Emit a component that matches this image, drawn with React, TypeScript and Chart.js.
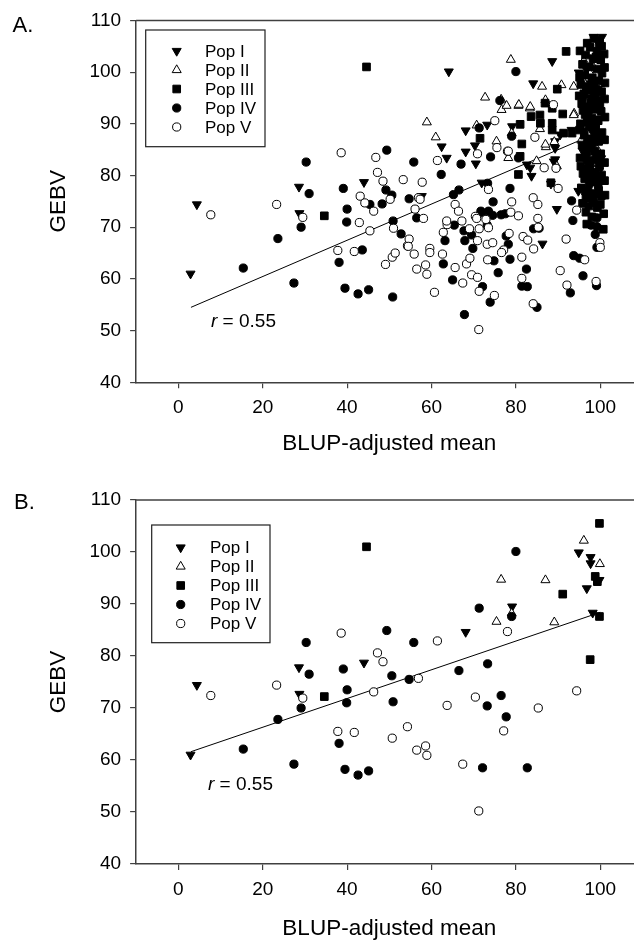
import React, { useEffect, useRef } from 'react';
import { Chart, registerables } from 'chart.js';

Chart.register(...registerables);

type P = [number, number];

const FONT = "'Liberation Sans', Arial, Helvetica, sans-serif";

const xTickValues = [0, 20, 40, 60, 80, 100];
const popLabels = ['Pop I', 'Pop II', 'Pop III', 'Pop IV', 'Pop V'];
const xTitle = 'BLUP-adjusted mean';
const yTitle = 'GEBV';
const corrValue = '0.55';

// ---------- Panel B points (also present in panel A) ----------
const popI_B: P[] = [[4.4, 74.4], [2.9, 61.0], [28.7, 72.7], [28.6, 77.8], [44.0, 78.7], [68.1, 84.6], [79.1, 89.5], [94.9, 99.9], [97.7, 99.0], [97.7, 97.8], [99.8, 94.6], [96.8, 93.0], [98.2, 88.3]];
const popII_B: P[] = [[96.1, 102.2], [99.9, 97.7], [76.5, 94.7], [87.0, 94.6], [79.0, 88.2], [75.4, 86.6], [89.1, 86.5]];
const popIII_B: P[] = [[44.6, 101.0], [99.8, 105.5], [98.8, 95.3], [99.3, 94.3], [91.1, 91.9], [99.8, 87.6], [97.6, 79.3], [34.6, 72.2]];
const popIV_B: P[] = [[15.4, 62.1], [23.6, 67.8], [27.4, 59.2], [29.1, 70.0], [30.3, 82.6], [31.0, 76.5], [80.0, 100.1], [79.0, 87.6], [71.3, 89.2], [55.8, 82.6], [49.4, 84.9], [39.1, 77.5], [50.6, 76.2], [54.7, 75.5], [66.5, 77.2], [73.3, 78.5], [40.0, 73.5], [76.5, 72.4], [39.9, 71.0], [50.9, 71.2], [73.2, 70.4], [77.7, 68.3], [38.1, 63.2], [39.5, 58.2], [42.6, 57.1], [45.1, 57.9], [72.1, 58.5], [82.7, 58.5]];
const popV_B: P[] = [[7.7, 72.4], [23.3, 74.4], [29.5, 71.9], [78.0, 84.7], [94.4, 73.3], [61.4, 82.9], [38.6, 84.4], [47.2, 80.6], [48.5, 78.9], [56.9, 75.7], [46.3, 73.1], [70.4, 72.1], [63.7, 70.5], [85.3, 70.0], [37.8, 65.5], [41.7, 65.3], [50.7, 64.2], [54.3, 66.4], [56.5, 61.9], [58.6, 62.7], [58.9, 60.9], [77.1, 65.6], [67.4, 59.2], [71.2, 50.2]];

// ---------- Additional points only in panel A ----------
const popI_Aextra: P[] = [[64.1, 100.1], [88.6, 102.1], [84.1, 97.8], [62.4, 85.6], [68.1, 88.7], [73.2, 89.8], [70.3, 85.8], [63.6, 83.4], [70.5, 82.3], [90.5, 87.9], [89.3, 85.3], [93.2, 88.8], [89.0, 82.7], [82.6, 82.1], [83.7, 79.9], [71.9, 78.6], [88.3, 78.4], [94.8, 77.0], [89.7, 73.5], [57.7, 76.0], [86.3, 66.8], [89.3, 83.1], [83.4, 81.5], [89.3, 86.6],
  [98.4, 106.8], [100.4, 106.8], [99.1, 103.1], [96.9, 100.2], [100.0, 97.5], [97.5, 92.2], [99.2, 89.8], [96.0, 88.6], [98.4, 85.9], [100.2, 83.3], [96.8, 82.5], [99.1, 79.6], [97.6, 80.0], [95.8, 84.8], [99.9, 91.0], [98.1, 96.0], [96.0, 94.8]];
const popII_Aextra: P[] = [[78.8, 102.4], [86.2, 97.2], [90.8, 97.5], [72.7, 95.1], [76.6, 92.7], [77.8, 93.5], [80.6, 93.5], [58.9, 90.3], [61.0, 87.4], [70.7, 89.7], [78.2, 83.4], [83.3, 93.0], [85.7, 89.0], [87.1, 85.5], [93.8, 92.0], [84.9, 82.8], [93.7, 97.2], [80.7, 93.7], [83.4, 93.3], [93.7, 91.7], [87.0, 86.0], [89.7, 81.8],
  [97.6, 99.7], [96.2, 97.9], [98.8, 93.6], [96.8, 90.6], [99.4, 84.9], [97.7, 82.2], [95.5, 86.8], [98.4, 100.9]];
const popIII_Aextra: P[] = [[91.9, 104.0], [89.8, 96.7], [71.5, 87.2], [81.0, 89.9], [81.4, 86.1], [83.6, 91.4], [85.7, 91.7], [86.9, 94.0], [88.6, 93.0], [88.6, 88.8], [80.6, 80.2], [88.3, 78.6], [85.8, 90.1], [88.6, 90.1], [91.3, 88.2], [93.3, 88.2], [81.0, 83.7], [97.3, 74.1], [100.0, 74.4],
  [98.5, 106.5], [99.8, 106.2], [100.3, 105.0], [97.6, 104.8], [99.2, 104.0], [96.5, 103.3], [98.3, 102.6], [100.1, 102.4], [95.8, 101.5], [97.4, 101.0], [99.3, 100.6], [100.4, 99.8], [96.3, 99.4], [98.1, 98.9], [99.6, 98.3], [95.4, 97.6], [97.2, 97.2], [98.9, 96.7], [100.3, 96.2], [96.1, 95.8], [97.8, 95.0], [99.4, 94.5], [95.6, 93.9], [97.1, 93.3], [98.6, 92.8], [100.2, 92.4], [96.4, 91.8], [98.0, 91.1], [99.5, 90.6], [95.3, 90.0], [97.3, 89.4], [98.9, 88.9], [100.4, 88.3], [96.2, 87.8], [97.9, 87.1], [99.6, 86.6], [95.7, 85.9], [97.2, 85.3], [98.7, 84.7], [100.1, 84.2], [96.5, 83.6], [98.2, 83.0], [99.7, 82.4], [95.4, 81.8], [97.0, 81.2], [98.6, 80.6], [100.3, 80.1], [96.3, 79.4], [98.0, 78.8], [99.5, 78.2], [97.1, 77.2], [98.8, 76.5], [100.2, 76.0], [96.6, 75.6],
  [95.2, 104.1], [96.9, 105.6], [100.9, 103.5], [101.0, 100.9], [95.1, 99.0], [101.1, 97.9], [95.0, 95.4], [101.0, 94.8], [96.7, 96.6], [98.4, 97.6], [99.9, 93.5], [97.7, 94.0], [95.9, 92.6], [101.1, 91.3], [96.9, 90.4], [98.3, 89.9], [95.1, 88.8], [99.8, 88.1], [101.0, 86.9], [96.8, 84.6], [95.2, 83.4], [99.1, 83.5], [101.0, 82.5], [97.5, 82.0], [95.9, 80.4], [97.6, 79.9], [99.4, 79.5], [101.0, 79.0], [95.5, 77.6], [97.0, 76.0], [99.6, 77.1], [101.1, 76.2], [98.2, 75.6], [95.8, 74.6], [99.3, 73.8], [100.8, 72.6], [96.6, 72.9], [98.0, 72.0], [96.8, 70.6], [100.7, 69.6]];
const popIV_Aextra: P[] = [[76.2, 94.5], [67.0, 82.2], [74.0, 83.6], [80.6, 83.4], [78.6, 77.5], [65.2, 76.3], [93.2, 75.1], [74.6, 74.9], [71.9, 72.8], [74.5, 72.3], [77.5, 72.6], [62.3, 80.2], [45.4, 74.4], [48.3, 74.5], [49.2, 77.2], [56.5, 71.8], [52.8, 68.7], [65.4, 70.4], [63.2, 67.4], [67.7, 69.3], [69.5, 68.5], [67.9, 67.4], [69.8, 65.9], [71.7, 73.1], [73.5, 73.1], [78.2, 66.7], [78.6, 63.8], [62.8, 62.9], [65.0, 59.8], [73.9, 55.5], [74.8, 63.5], [75.8, 61.2], [67.8, 53.1], [93.5, 71.3], [84.2, 69.7], [85.5, 69.8], [82.5, 61.9], [81.4, 58.6], [85.0, 54.5], [93.7, 64.5], [95.1, 64.0], [95.9, 60.6], [92.9, 57.3], [99.1, 58.7], [43.6, 65.6], [50.8, 56.5], [97.8, 70.4], [99.2, 70.1], [98.8, 68.6], [99.2, 71.8], [99.2, 66.1],
  [97.5, 90.3], [99.0, 87.5], [96.9, 86.4], [99.8, 81.5], [97.4, 78.3], [98.4, 74.8], [96.4, 76.8]];
const popV_Aextra: P[] = [[46.8, 83.5], [57.8, 78.7], [53.3, 79.2], [43.1, 76.0], [44.2, 74.7], [50.2, 75.4], [56.1, 73.5], [65.6, 74.4], [66.4, 73.1], [78.8, 72.9], [80.6, 72.2], [75.0, 90.6], [70.9, 84.2], [75.5, 85.4], [84.5, 87.4], [88.9, 93.7], [86.7, 81.5], [89.5, 81.4], [90.0, 77.5], [84.1, 75.7], [85.2, 74.4], [79.0, 74.9], [73.5, 77.3], [78.2, 84.7], [57.3, 75.4], [58.1, 71.7], [54.7, 67.7], [54.5, 66.3], [55.9, 64.8], [59.6, 65.9], [59.6, 65.1], [60.7, 57.4], [67.2, 71.2], [62.8, 69.0], [69.0, 69.7], [71.3, 69.7], [70.9, 67.4], [73.2, 66.7], [74.5, 67.0], [70.7, 71.7], [72.9, 71.5], [73.5, 69.9], [78.4, 68.8], [76.6, 65.1], [62.6, 64.8], [65.6, 62.2], [68.3, 62.9], [69.1, 64.0], [69.5, 60.8], [70.9, 60.3], [71.3, 57.6], [74.9, 56.8], [73.3, 63.7], [85.2, 71.7], [81.7, 68.2], [82.8, 67.5], [84.2, 65.8], [91.9, 67.7], [81.4, 64.2], [81.4, 60.1], [84.1, 55.2], [96.3, 63.7], [90.5, 61.6], [92.1, 58.8], [99.0, 59.5], [99.9, 67.0], [100.0, 66.1], [49.1, 62.8], [51.4, 65.0], [45.4, 69.3], [42.9, 70.9], [51.0, 69.8], [63.6, 71.2]];

// ---------- Regression lines ----------
const fitA: P[] = [[3, 54.5], [100, 88.5]];
const fitB: P[] = [[3, 61.6], [100, 88.4]];

const markerKinds = [
  { pointStyle: 'triangle', rotation: 180, fill: '#000000', radius: 5.2 },
  { pointStyle: 'triangle', rotation: 0, fill: '#ffffff', radius: 5.2 },
  { pointStyle: 'rect', rotation: 0, fill: '#000000', radius: 5.4 },
  { pointStyle: 'circle', rotation: 0, fill: '#000000', radius: 4.1 },
  { pointStyle: 'circle', rotation: 0, fill: '#ffffff', radius: 4.1 },
];

const W = 660;
const H = 471;
const PLOT_LEFT = 136.1;
const PLOT_RIGHT = 642.5;

interface PanelCfg {
  letter: string;
  letterX: number;
  letterY: number;
  top: number;
  bottom: number;
  xTitleBaseline: number;
  rX: number;
  rBaseline: number;
  legBox: [number, number, number, number];
  legMarkerX: number;
  legTextX: number;
  legRow0: number;
  legRowStep: number;
  pops: P[][];
  fit: P[];
}

function drawMarker(ctx: CanvasRenderingContext2D, k: number, x: number, y: number) {
  const m = markerKinds[k];
  ctx.save();
  ctx.fillStyle = m.fill;
  ctx.strokeStyle = '#000';
  ctx.lineWidth = 1;
  ctx.beginPath();
  const r = m.radius;
  if (m.pointStyle === 'circle') {
    ctx.arc(x, y, r, 0, Math.PI * 2);
  } else if (m.pointStyle === 'rect') {
    const s = Math.SQRT1_2 * r;
    ctx.rect(x - s, y - s, 2 * s, 2 * s);
  } else {
    let a = (m.rotation * Math.PI) / 180;
    ctx.moveTo(x + Math.sin(a) * r, y - Math.cos(a) * r);
    a += (2 * Math.PI) / 3;
    ctx.lineTo(x + Math.sin(a) * r, y - Math.cos(a) * r);
    a += (2 * Math.PI) / 3;
    ctx.lineTo(x + Math.sin(a) * r, y - Math.cos(a) * r);
    ctx.closePath();
  }
  ctx.fill();
  ctx.stroke();
  ctx.restore();
}

function makeChart(canvas: HTMLCanvasElement, cfg: PanelCfg) {
  const datasets: any[] = cfg.pops.map((pts, i) => ({
    label: popLabels[i],
    data: pts.map(([x, y]) => ({ x, y })),
    pointStyle: markerKinds[i].pointStyle,
    rotation: markerKinds[i].rotation,
    pointRadius: markerKinds[i].radius,
    backgroundColor: markerKinds[i].fill,
    borderColor: '#000000',
    borderWidth: 1,
    order: 5 - i,
  }));
  datasets.push({
    label: 'fit',
    data: cfg.fit.map(([x, y]) => ({ x, y })),
    showLine: true,
    pointRadius: 0,
    borderColor: '#000000',
    borderWidth: 1,
    fill: false,
    order: 10,
  });

  const panelPlugin = {
    id: 'panelDecor',
    afterDraw(chart: any) {
      const ctx: CanvasRenderingContext2D = chart.ctx;
      const a = chart.chartArea;
      ctx.save();
      ctx.strokeStyle = '#404040';
      ctx.lineWidth = 1.5;
      ctx.beginPath();
      ctx.moveTo(a.left, a.top);
      ctx.lineTo(a.right, a.top);
      ctx.stroke();

      ctx.fillStyle = '#000';
      ctx.font = `22px ${FONT}`;
      ctx.textAlign = 'left';
      ctx.textBaseline = 'alphabetic';
      ctx.fillText(cfg.letter, cfg.letterX, cfg.letterY);

      ctx.font = `22.5px ${FONT}`;
      ctx.textAlign = 'center';
      ctx.fillText(xTitle, (a.left + a.right) / 2, cfg.xTitleBaseline);

      ctx.save();
      ctx.translate(59, (a.top + a.bottom) / 2);
      ctx.rotate(-Math.PI / 2);
      ctx.textAlign = 'center';
      ctx.textBaseline = 'middle';
      ctx.fillText(yTitle, 0, 0);
      ctx.restore();

      ctx.textAlign = 'left';
      ctx.textBaseline = 'alphabetic';
      ctx.font = `italic 19px ${FONT}`;
      ctx.fillText('r', cfg.rX, cfg.rBaseline);
      const rw = ctx.measureText('r').width;
      ctx.font = `19px ${FONT}`;
      ctx.fillText(' = ' + corrValue, cfg.rX + rw, cfg.rBaseline);

      const [bx, by, bw, bh] = cfg.legBox;
      ctx.strokeStyle = '#202020';
      ctx.lineWidth = 1.2;
      ctx.strokeRect(bx, by, bw, bh);
      ctx.font = `17px ${FONT}`;
      ctx.textBaseline = 'middle';
      popLabels.forEach((lab, i) => {
        const yy = cfg.legRow0 + i * cfg.legRowStep;
        drawMarker(ctx, i, cfg.legMarkerX, yy);
        ctx.fillStyle = '#000';
        ctx.fillText(lab, cfg.legTextX, yy + 1);
      });
      ctx.restore();
    },
  };

  return new Chart(canvas, {
    type: 'scatter',
    data: { datasets },
    options: {
      animation: false,
      responsive: false,
      devicePixelRatio: 1,
      events: [],
      layout: { padding: { top: cfg.top, right: W - PLOT_RIGHT, left: 0, bottom: 0 } },
      plugins: { legend: { display: false }, tooltip: { enabled: false } },
      scales: {
        x: {
          type: 'linear',
          min: -10,
          max: 110,
          afterBuildTicks: (s: any) => {
            s.ticks = xTickValues.map((v) => ({ value: v }));
          },
          afterFit: (s: any) => {
            s.height = H - cfg.bottom;
          },
          grid: { drawOnChartArea: false, drawTicks: true, tickLength: 6, color: '#404040', lineWidth: 1.2 },
          border: { display: true, color: '#404040', width: 1.5 },
          ticks: { font: { family: FONT, size: 19 }, color: '#000', padding: 8, maxRotation: 0, autoSkip: false },
        },
        y: {
          type: 'linear',
          min: 40,
          max: 110,
          afterFit: (s: any) => {
            s.width = PLOT_LEFT;
          },
          grid: { drawOnChartArea: false, drawTicks: true, tickLength: 6, color: '#404040', lineWidth: 1.2 },
          border: { display: true, color: '#404040', width: 1.5 },
          ticks: { stepSize: 10, font: { family: FONT, size: 19 }, color: '#000', padding: 9, autoSkip: false },
        },
      },
    } as any,
    plugins: [panelPlugin as any],
  });
}

const panelA: PanelCfg = {
  letter: 'A.',
  letterX: 12.5,
  letterY: 31.5,
  top: 18.3,
  bottom: 382.3,
  xTitleBaseline: 449.5,
  rX: 211,
  rBaseline: 327,
  legBox: [145.7, 30, 119.3, 116.7],
  legMarkerX: 176.7,
  legTextX: 205,
  legRow0: 51,
  legRowStep: 19,
  pops: [
    [...popI_B, ...popI_Aextra],
    [...popII_B, ...popII_Aextra],
    [...popIII_B, ...popIII_Aextra],
    [...popIV_B, ...popIV_Aextra],
    [...popV_B, ...popV_Aextra],
  ],
  fit: fitA,
};

const panelB: PanelCfg = {
  letter: 'B.',
  letterX: 14,
  letterY: 38.3,
  top: 29,
  bottom: 393,
  xTitleBaseline: 464,
  rX: 208,
  rBaseline: 318.5,
  legBox: [151.7, 54, 118.3, 117.7],
  legMarkerX: 180.7,
  legTextX: 210,
  legRow0: 76.5,
  legRowStep: 19,
  pops: [popI_B, popII_B, popIII_B, popIV_B, popV_B],
  fit: fitB,
};

export default function App() {
  const refA = useRef<HTMLCanvasElement>(null);
  const refB = useRef<HTMLCanvasElement>(null);

  useEffect(() => {
    document.body.style.margin = '0';
    document.body.style.overflow = 'hidden';
    const cA = makeChart(refA.current!, panelA);
    const cB = makeChart(refB.current!, panelB);
    return () => {
      cA.destroy();
      cB.destroy();
    };
  }, []);

  return (
    <div
      style={{
        position: 'absolute',
        left: 0,
        top: 0,
        width: 634,
        height: 942,
        overflow: 'hidden',
        background: '#ffffff',
      }}
    >
      <canvas ref={refA} width={W} height={H} style={{ display: 'block', width: W, height: H }} />
      <canvas ref={refB} width={W} height={H} style={{ display: 'block', width: W, height: H }} />
    </div>
  );
}
